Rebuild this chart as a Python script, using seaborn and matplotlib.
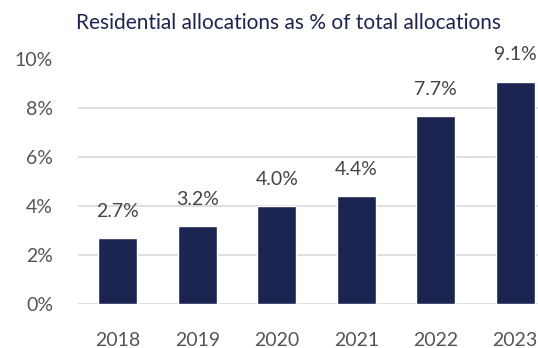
import matplotlib
matplotlib.use("Agg")
import matplotlib.pyplot as plt
import seaborn as sns
import pandas as pd

years = ["2018", "2019", "2020", "2021", "2022", "2023"]
shares = [2.7, 3.2, 4.0, 4.4, 7.7, 9.1]
y_ticks = [0, 2, 4, 6, 8, 10]
title = "Residential allocations as % of total allocations"

navy = "#1c2551"
grey_text = "#555555"

sns.set_theme(style="white")
plt.rcParams["font.family"] = ["Lato", "DejaVu Sans"]

fig = plt.figure(figsize=(5.38, 3.48), dpi=100)
ax = fig.add_axes([78 / 538, 44 / 348, 477 / 538, 244.5 / 348])

df = pd.DataFrame({"year": years, "share": shares})
sns.barplot(data=df, x="year", y="share", color=navy, width=0.49,
            saturation=1, ax=ax, zorder=3)

ax.set_ylim(0, 10)
ax.set_xlim(-0.5, 5.5)
ax.set_yticks(y_ticks)
ax.set_yticklabels([f"{t}%" for t in y_ticks])
ax.yaxis.grid(True, color="#d9d9d9", linewidth=1.2, zorder=0)
ax.set_axisbelow(True)
for s in ax.spines.values():
    s.set_visible(False)
ax.set_xlabel("")
ax.set_ylabel("")
ax.tick_params(axis="both", length=0, labelsize=14, colors=grey_text)
ax.tick_params(axis="y", pad=18)
ax.tick_params(axis="x", pad=20)

# value labels sit a fixed distance above each bar
for i, v in enumerate(shares):
    ax.text(i, v + 0.86, f"{v:.1f}%", ha="center", va="baseline",
            fontsize=14, color="#444444", clip_on=False)

fig.text(76 / 538, 1 - 29 / 348, title, ha="left", va="baseline",
         fontsize=15, color=navy)

fig.savefig("out.png", dpi=100)
